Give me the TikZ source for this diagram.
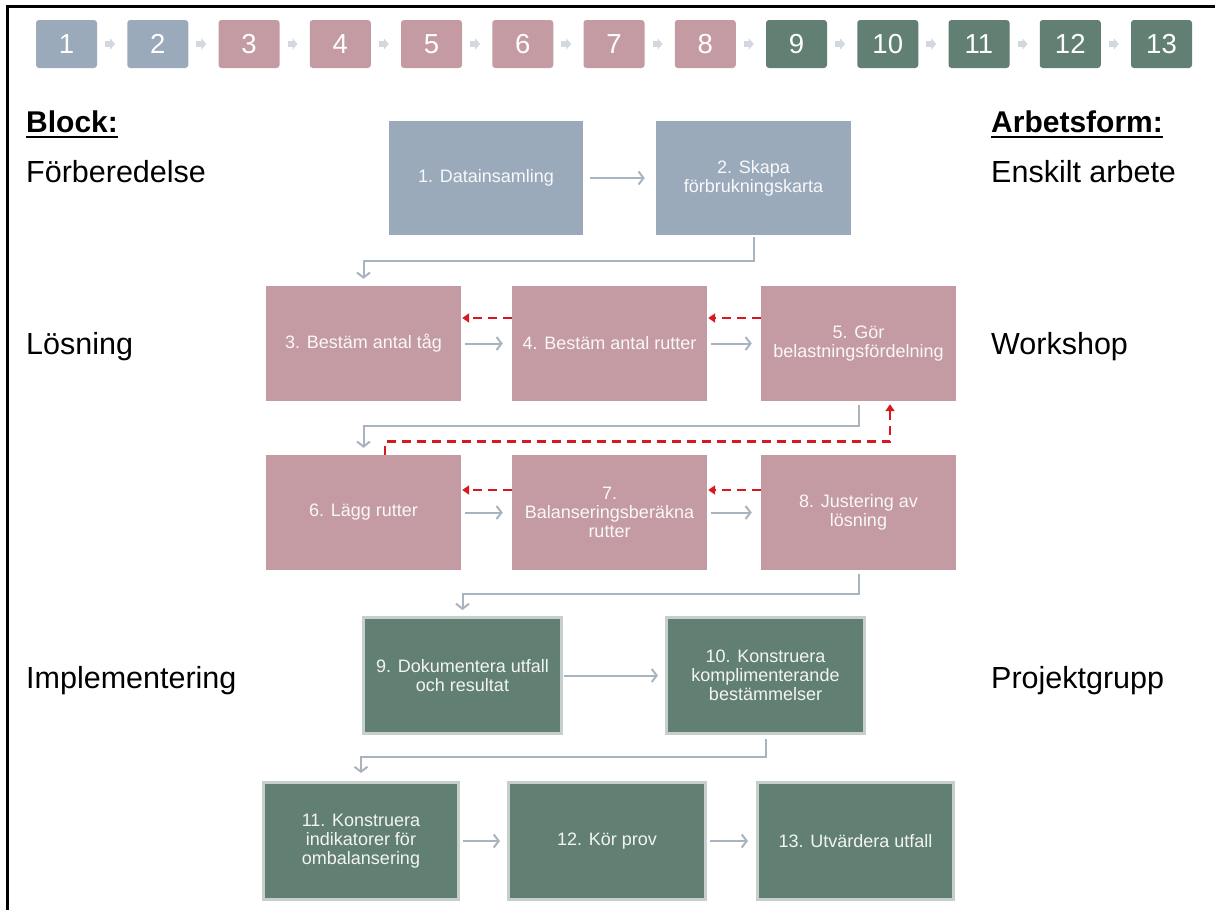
\documentclass[tikz,border=0pt]{standalone}
\usepackage{fontspec}
\setmainfont{Liberation Sans}
\usetikzlibrary{arrows.meta,calc}
\definecolor{cblue}{HTML}{9BAABB}
\definecolor{cpink}{HTML}{C49BA3}
\definecolor{cgreen}{HTML}{627F73}
\definecolor{cgborder}{HTML}{C6CFCA}
\definecolor{cgray}{HTML}{A9B4C1}
\definecolor{cchev}{HTML}{D3D8DE}
\definecolor{cred}{HTML}{D7191F}
\begin{document}
\begin{tikzpicture}[x=1pt,y=-1pt,
  tnum/.style={rounded corners=3pt, minimum width=61pt, minimum height=48pt,
    inner sep=0pt, text=white, font=\fontsize{27.5}{27.5}\selectfont},
  chev/.style={draw=cchev, line width=6pt,
    -{Triangle[length=5pt,width=11pt]}},
  stepbox/.style={minimum width=194pt, minimum height=114pt, inner sep=2pt,
    align=center, text=white, text opacity=0.92,
    font=\fontsize{18}{19}\selectfont},
  gbox/.style={stepbox, fill=cgreen, draw=cgborder, line width=3pt,
    minimum width=198pt, minimum height=116pt},
  flow/.style={draw=cgray, line width=2pt,
    -{Straight Barb[length=5pt,width=13pt]}},
  back/.style={draw=cred, line width=2.7pt, dash pattern=on 9pt off 6pt,
    -{Triangle[length=7pt,width=9pt]}},
  lbl/.style={anchor=base west, inner sep=0pt,
    font=\fontsize{30.5}{30.5}\selectfont},
  hdr/.style={lbl, font=\fontsize{30}{30}\selectfont\bfseries}
]
\useasboundingbox (0,0) rectangle (1215,910);
\fill[white] (0,0) rectangle (1215,910);
\draw[line width=3pt, line join=miter] (7.5,910) -- (7.5,6) -- (1215,6);

% step strip along the top
\foreach \i/\c in {1/cblue,2/cblue,3/cpink,4/cpink,5/cpink,6/cpink,7/cpink,
                   8/cpink,9/cgreen,10/cgreen,11/cgreen,12/cgreen,13/cgreen}
  \node[tnum, fill=\c] (t\i) at ({66.5+(\i-1)*91.25},44) {\i};
\foreach \i in {1,...,12}{
  \pgfmathtruncatemacro{\j}{\i+1}
  \draw[chev] ([xshift=8pt]t\i.east) -- ([xshift=-12pt]t\j.west);
}

% block and working-form labels
\node[hdr] (lblock) at (26,132) {Block:};
\draw[line width=2.5pt] ([yshift=-5pt]lblock.base west) -- ([yshift=-5pt]lblock.base east);
\node[lbl] (lprep) at (26,182) {Förberedelse};
\node[lbl] (lsol) at (26,354) {Lösning};
\node[lbl] (limp) at (26,688) {Implementering};
\node[hdr] (lform) at (991,132) {Arbetsform:};
\draw[line width=2.5pt] ([yshift=-5pt]lform.base west) -- ([yshift=-5pt]lform.base east);
\node[lbl] (fprep) at (991,182) {Enskilt arbete};
\node[lbl] (fsol) at (991,354) {Workshop};
\node[lbl] (fimp) at (991,688) {Projektgrupp};

% process steps
\node[stepbox, fill=cblue] (b1) at (486,178) {1. Datainsamling};
\node[stepbox, fill=cblue, minimum width=195pt] (b2) at (753.5,178) {2. Skapa\\förbrukningskarta};

\node[stepbox, fill=cpink, minimum width=195pt, minimum height=115pt] (b3) at (363.5,343.5) {3. Bestäm antal tåg};
\node[stepbox, fill=cpink, minimum width=195pt, minimum height=115pt] (b4) at (609.5,343.5) {4. Bestäm antal rutter};
\node[stepbox, fill=cpink, minimum width=195pt, minimum height=115pt] (b5) at (858.5,343.5) {5. Gör\\belastningsfördelning};

\node[stepbox, fill=cpink, minimum width=195pt, minimum height=115pt] (b6) at (363.5,512.5) {6. Lägg rutter};
\node[stepbox, fill=cpink, minimum width=195pt, minimum height=115pt] (b7) at (609.5,512.5) {7.\\Balanseringsberäkna\\rutter};
\node[stepbox, fill=cpink, minimum width=195pt, minimum height=115pt] (b8) at (858.5,512.5) {8. Justering av\\lösning};

\node[gbox] (b9) at (462.5,675.5) {9. Dokumentera utfall\\och resultat};
\node[gbox] (b10) at (765.5,675.5) {10. Konstruera\\komplimenterande\\bestämmelser};

\node[gbox, minimum width=195pt, minimum height=117pt] (b11) at (361,841) {11. Konstruera\\indikatorer för\\ombalansering};
\node[gbox, minimum width=197pt, minimum height=117pt] (b12) at (607,841) {12. Kör prov};
\node[gbox, minimum width=196pt, minimum height=117pt] (b13) at (855.5,841) {13. Utvärdera utfall};

% forward flow
\draw[flow] ([xshift=7pt]b1.east) -- ([xshift=-11pt]b2.west);
\draw[flow] ([yshift=-2pt]b2.south) -- ++(0,24) -| ([yshift=7pt]b3.north);
\draw[flow] ([xshift=4pt]b3.east) -- ([xshift=-9pt]b4.west);
\draw[flow] ([xshift=4pt]b4.east) -- ([xshift=-9pt]b5.west);
\draw[flow] ([yshift=-4pt]b5.south) -- ++(0,21) -| ([yshift=7pt]b6.north);
\draw[flow] ([xshift=4pt]b6.east) -- ([xshift=-9pt]b7.west);
\draw[flow] ([xshift=4pt]b7.east) -- ([xshift=-9pt]b8.west);
\draw[flow] ([yshift=-4pt]b8.south) -- ++(0,20) -| ([yshift=6pt]b9.north);
\draw[flow] ([xshift=1pt]b9.east) -- ([xshift=-7pt]b10.west);
\draw[flow] ([yshift=-4pt]b10.south) -- ++(0,18) -| ([yshift=8pt]b11.north);
\draw[flow] ([xshift=3pt]b11.east) -- ([xshift=-7pt]b12.west);
\draw[flow] ([xshift=3pt]b12.east) -- ([xshift=-8pt]b13.west);

% feedback loops
\draw[back] ([yshift=25.5pt]b4.west) -- ([yshift=25.5pt,xshift=1pt]b3.east);
\draw[back] ([yshift=25.5pt]b5.west) -- ([yshift=25.5pt,xshift=1pt]b4.east);
\draw[back] ([yshift=22.5pt]b7.west) -- ([yshift=22.5pt,xshift=1pt]b6.east);
\draw[back] ([yshift=22.5pt]b8.west) -- ([yshift=22.5pt,xshift=1pt]b7.east);
\draw[back] ([xshift=21.5pt]b6.north) -- ++(0,-13) -| ([xshift=31.5pt,yshift=-3pt]b5.south);
\end{tikzpicture}
\end{document}
